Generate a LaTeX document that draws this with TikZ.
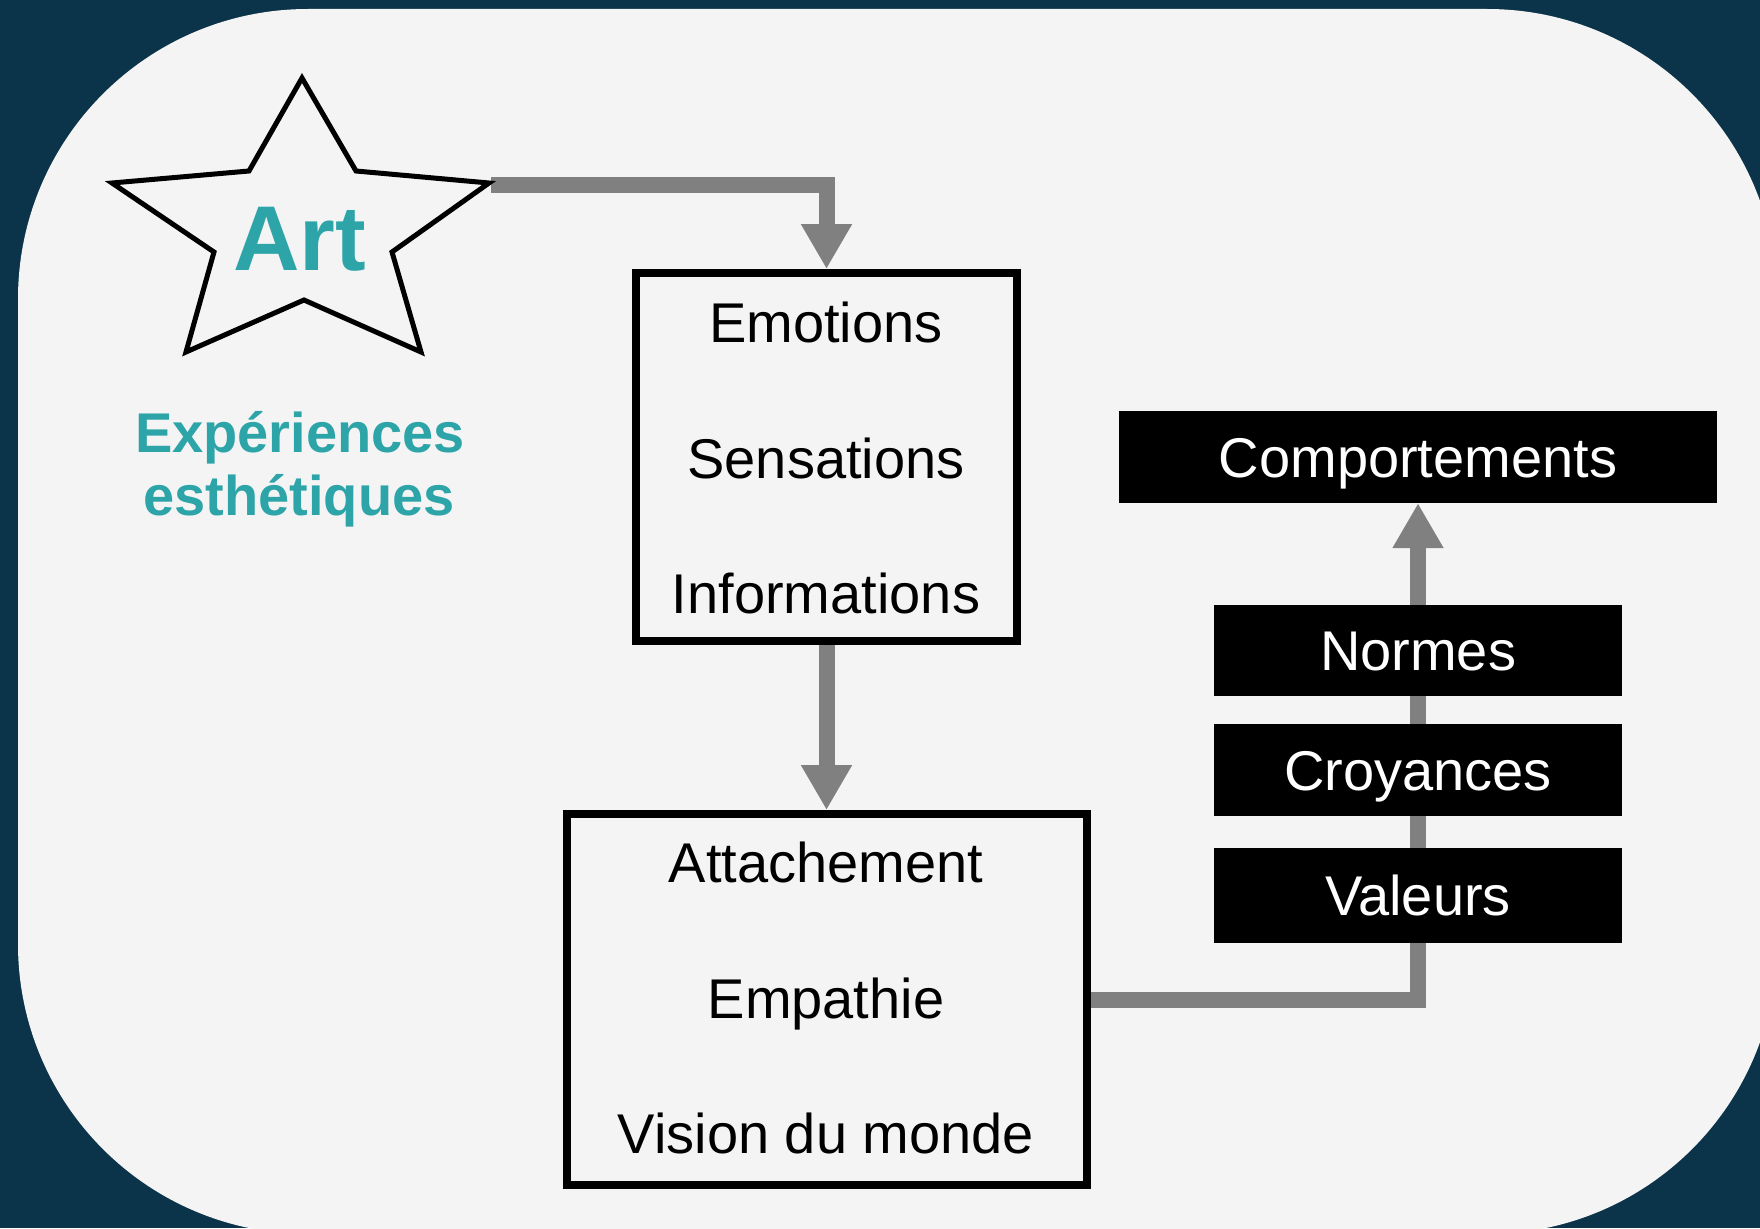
\documentclass[tikz,border=0pt]{standalone}
\usepackage{fontspec}
\setmainfont{Liberation Sans}
\usetikzlibrary{arrows.meta}

\definecolor{navy}{HTML}{0B3349}
\definecolor{paper}{HTML}{F4F4F4}
\definecolor{arttone}{HTML}{2DA4A8}
\definecolor{linkgray}{HTML}{808080}

\pgfdeclarelayer{panel}
\pgfdeclarelayer{links}
\pgfsetlayers{panel,links,main}

\tikzset{
  word/.style={font=\fontsize{56}{60}\selectfont, text height=40pt, text depth=0pt, inner sep=0pt},
  frame/.style={draw=black, line width=8pt, inner sep=0pt},
  tag/.style={word, fill=black, text=white, minimum width=408pt},
  link/.style={draw=linkgray, line width=16pt, line join=miter,
    -{Triangle[length=45pt,width=48pt]}}
}

\begin{document}
\begin{tikzpicture}[x=1pt,y=-1pt]
  \useasboundingbox (0,0) rectangle (1760,1228);
  \clip (0,0) rectangle (1760,1228);

  % backdrop and rounded panel
  \begin{pgfonlayer}{panel}
    \fill[navy] (0,0) rectangle (1760,1228);
    \fill[paper, rounded corners=290pt] (18,9) rectangle (1777,1234);
  \end{pgfonlayer}

  % star outline
  \coordinate (tipT)  at (302,78);
  \coordinate (inUR)  at (356,171);
  \coordinate (tipR)  at (489,183);
  \coordinate (inR)   at (392,252);
  \coordinate (tipBR) at (421,352);
  \coordinate (inB)   at (304,300);
  \coordinate (tipBL) at (186,352);
  \coordinate (inL)   at (214,252);
  \coordinate (tipL)  at (112,183);
  \coordinate (inUL)  at (249,171);
  \coordinate (artout) at (491,185);
  \draw[line width=5pt, line join=miter, fill=paper]
    (tipT) -- (inUR) -- (tipR) -- (inR) -- (tipBR) -- (inB) -- (tipBL)
    -- (inL) -- (tipL) -- (inUL) -- cycle;

  \node[anchor=base, text=arttone, font=\fontsize{92}{96}\selectfont\bfseries, inner sep=0pt]
    (art) at (300,270) {Art};
  \node[anchor=base, text=arttone, font=\fontsize{56}{60}\selectfont\bfseries, inner sep=0pt]
    (exp1) at (300,452) {Expériences};
  \node[anchor=base, text=arttone, font=\fontsize{56}{60}\selectfont\bfseries, inner sep=0pt]
    (exp2) at (299,515) {esthétiques};

  % first frame
  \node[frame, minimum width=381pt, minimum height=368pt] (emo) at (826.5,457) {};
  \node[word] (emo1) at (826,322) {Emotions};
  \node[word] (emo2) at (826,458) {Sensations};
  \node[word] (emo3) at (826,593) {Informations};

  % second frame
  \node[frame, minimum width=520pt, minimum height=371pt] (att) at (826.5,999.5) {};
  \node[word] (att1) at (826,862) {Attachement};
  \node[word] (att2) at (826,998) {Empathie};
  \node[word] (att3) at (826,1133) {Vision du monde};

  % black labels
  \node[tag, minimum width=598pt, minimum height=92pt] (comp) at (1418,457) {Comportements};
  \node[tag, minimum height=91pt] (norm) at (1418,650.5) {Normes};
  \node[tag, minimum height=92pt] (croy) at (1418,770) {Croyances};
  \node[tag, minimum height=95pt] (val) at (1418,895.5) {Valeurs};

  % connectors
  \begin{pgfonlayer}{links}
    \draw[link] (artout) -| (emo.north);
    \draw[link] (emo.south) -- (att.north);
    \draw[link] (att.east) -| (comp.south);
  \end{pgfonlayer}
\end{tikzpicture}
\end{document}
